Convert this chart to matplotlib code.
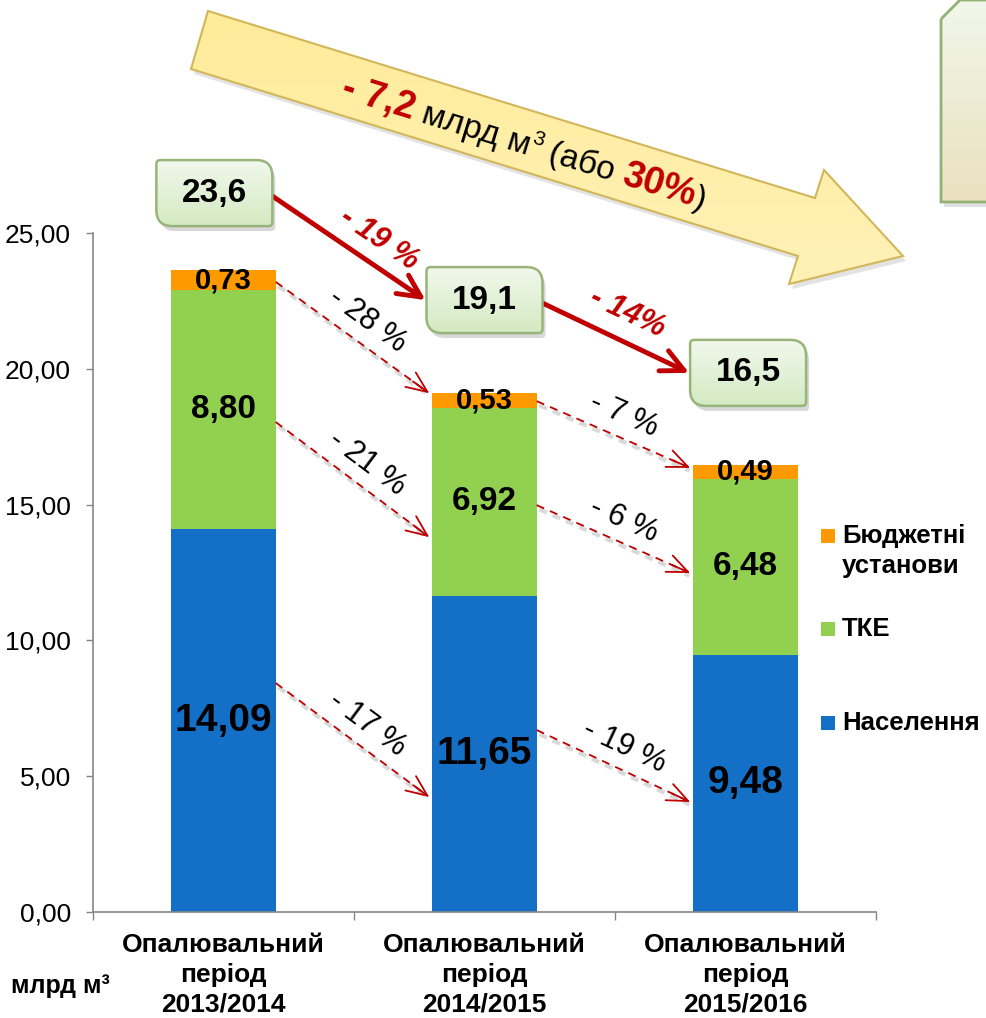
import numpy as np
import matplotlib
matplotlib.use('Agg')
import matplotlib.pyplot as plt
from matplotlib import patches, patheffects
from matplotlib.path import Path
from matplotlib.colors import to_rgb

plt.rcParams['font.family'] = ['Liberation Sans', 'DejaVu Sans']

periods = ['Опалювальний\nперіод\n2013/2014',
           'Опалювальний\nперіод\n2014/2015',
           'Опалювальний\nперіод\n2015/2016']
series_names = ['Населення', 'ТКЕ', 'Бюджетні\nустанови']
naselennia = [14.09, 11.65, 9.48]
tke = [8.80, 6.92, 6.48]
budget = [0.73, 0.53, 0.49]
totals = ['23,6', '19,1', '16,5']
total_changes = ['- 19 %', '- 14%']
# change between neighbouring periods, per series (Населення, ТКЕ, Бюджетні)
segment_changes = [['- 17 %', '- 21 %', '- 28 %'],
                   ['- 19 %', '- 6 %', '- 7 %']]
overall_change = ['- 7,2', ' млрд м', '3', ' (або ', '30%', ')']
yticks = [0, 5, 10, 15, 20, 25]
unit = 'млрд м³'

colors = ['#1370C6', '#92D050', '#FF9900']
red = '#C00000'
W, H = 987, 1018

fig = plt.figure(figsize=(W / 100, H / 100), dpi=100)
ax = fig.add_axes([93 / W, 106 / H, 783 / W, 679 / H])

x = np.arange(len(periods))
bottom = np.zeros(len(periods))
label_sizes = [28, 24, 21]
for vals, c, fs in zip([naselennia, tke, budget], colors, label_sizes):
    ax.bar(x, vals, 0.40, bottom=bottom, color=c, zorder=2)
    for xi, b, v in zip(x, bottom, vals):
        ax.text(xi, b + v / 2, f'{v:.2f}'.replace('.', ','), ha='center', va='center',
                fontsize=fs, fontweight='bold', zorder=3)
    bottom = bottom + np.array(vals)

ax.set_xlim(-0.5, 2.5)
ax.set_ylim(0, 25)
ax.set_yticks(yticks)
ax.set_yticklabels([f'{v:.2f}'.replace('.', ',') for v in yticks])
ax.set_xticks(x)
ax.set_xticklabels(periods, fontsize=19, fontweight='bold', linespacing=1.3)
ax.set_xticks([-0.5, 0.5, 1.5, 2.5], minor=True)
ax.tick_params(axis='x', which='major', length=0, pad=15)
ax.tick_params(axis='x', which='minor', length=6, color='#868686', width=1)
ax.tick_params(axis='y', length=5, color='#868686', width=1, labelsize=19, pad=11)
for s in ['top', 'right']:
    ax.spines[s].set_visible(False)
for s in ['left', 'bottom']:
    ax.spines[s].set_color('#868686')
    ax.spines[s].set_linewidth(1.2)

fig.text(60 / W, 1 - 986 / H, unit, ha='center', va='center', fontsize=18, fontweight='bold')

# overlay in pixel coordinates (y down) for the decorations
ov = fig.add_axes([0, 0, 1, 1], zorder=5)
ov.set_xlim(0, W)
ov.set_ylim(H, 0)
ov.axis('off')
ov.patch.set_visible(False)


def to_px(xv, yv):
    return ov.transData.inverted().transform(ax.transData.transform((xv, yv)))


def grad_fill(patch, top, bot, x0, x1, y0, y1, z):
    g = np.linspace(0, 1, 64)[:, None, None]
    img = (1 - g) * np.array(to_rgb(top)) + g * np.array(to_rgb(bot))
    im = ov.imshow(img, extent=(x0, x1, y1, y0), origin='upper', aspect='auto',
                   zorder=z, interpolation='bilinear')
    im.set_clip_path(patch)


def diag_box(x0, y0, w, h, rb=16, rs=4):
    x1, y1 = x0 + w, y0 + h
    verts = [(x0 + rs, y0), (x1 - rb, y0), (x1, y0), (x1, y0 + rb),
             (x1, y1 - rs), (x1, y1), (x1 - rs, y1),
             (x0 + rb, y1), (x0, y1), (x0, y1 - rb),
             (x0, y0 + rs), (x0, y0), (x0 + rs, y0), (x0 + rs, y0)]
    codes = [Path.MOVETO, Path.LINETO, Path.CURVE3, Path.CURVE3,
             Path.LINETO, Path.CURVE3, Path.CURVE3,
             Path.LINETO, Path.CURVE3, Path.CURVE3,
             Path.LINETO, Path.CURVE3, Path.CURVE3, Path.CLOSEPOLY]
    return Path(verts, codes)


# big yellow arrow
arrow_pts = [(208, 11), (815, 198), (824, 170), (903, 256), (789, 284), (798, 256), (191, 69)]
shadow = patches.Polygon([(px + 3, py + 5) for px, py in arrow_pts], closed=True,
                         facecolor='#808080', alpha=0.22, edgecolor='none', zorder=1)
ov.add_patch(shadow)
yarrow = patches.Polygon(arrow_pts, closed=True, facecolor='none',
                         edgecolor='#D2B65A', lw=1.5, zorder=3)
ov.add_patch(yarrow)
grad_fill(yarrow, '#FFEB98', '#FFF2B8', 180, 910, 0, 290, 2)

renderer = fig.canvas.get_renderer()
ang = np.degrees(np.arctan2(198 - 11, 815 - 208))
d = np.array([np.cos(np.radians(ang)), np.sin(np.radians(ang))])
nrm = np.array([np.sin(np.radians(ang)), -np.cos(np.radians(ang))])
styles = [dict(fontsize=27, fontweight='bold', color=red),
          dict(fontsize=24, color='black'),
          dict(fontsize=15, color='black'),
          dict(fontsize=24, color='black'),
          dict(fontsize=27, fontweight='bold', color=red),
          dict(fontsize=24, color='black')]
raises = [0, 0, 13, 0, 0, 0]
widths = []
for s, st in zip(overall_change, styles):
    t = ov.text(0, 0, s, **st)
    widths.append(t.get_window_extent(renderer).width)
    t.remove()
center = np.array([524, 144])
pos = center - d * sum(widths) / 2 - nrm * 10
for s, st, w, r in zip(overall_change, styles, widths, raises):
    p = pos + nrm * r
    ov.text(p[0], p[1], s, rotation=-ang, rotation_mode='anchor', ha='left',
            va='baseline', zorder=4, **st)
    pos = pos + d * w

# top-right box (cut by the edge)
tr_pts = [(941, 19), (960, 0), (1000, 0), (1000, 202), (941, 202)]
ov.add_patch(patches.Polygon([(px + 3, py + 5) for px, py in tr_pts], closed=True,
                             facecolor='#808080', alpha=0.25, edgecolor='none', zorder=1))
trbox = patches.Polygon(tr_pts, closed=True, facecolor='none', edgecolor='#93B076',
                        lw=2, zorder=3)
ov.add_patch(trbox)
grad_fill(trbox, '#F1F7EA', '#EAE0BE', 935, 1000, 0, 205, 2)

# total boxes
box_dy = [2.85, 3.43, 3.4]
box_dx = [-0.035, 0.0, 0.01]
bw, bh = 116, 66
box_centers = []
for i, (tot, vals) in enumerate(zip(totals, zip(naselennia, tke, budget))):
    cx, cy = to_px(x[i] + box_dx[i], sum(vals) + box_dy[i])
    box_centers.append((cx, cy))
    x0, y0 = cx - bw / 2, cy - bh / 2
    ov.add_patch(patches.PathPatch(diag_box(x0 + 3, y0 + 5, bw, bh), facecolor='#808080',
                                   alpha=0.3, edgecolor='none', zorder=6))
    bp = patches.PathPatch(diag_box(x0, y0, bw, bh), facecolor='none',
                           edgecolor='#98B47A', lw=1.8, zorder=8)
    ov.add_patch(bp)
    grad_fill(bp, '#F1F8EC', '#D3EAC2', x0, x0 + bw, y0, y0 + bh, 7)
    ov.text(cx, cy, tot, ha='center', va='center', fontsize=24, fontweight='bold', zorder=9)

# solid red arrows between totals
tc_offsets = [(20, 24), (0, 28)]
for i, lab in enumerate(total_changes):
    s = np.array([box_centers[i][0] + bw / 2, box_centers[i][1] + 3])
    e = np.array([box_centers[i + 1][0] - bw / 2 - 1, box_centers[i + 1][1]])
    ov.annotate('', xy=e, xytext=s, zorder=6,
                arrowprops=dict(arrowstyle='->,head_length=0.65,head_width=0.32', lw=3.5,
                                color=red, mutation_scale=25, shrinkA=0, shrinkB=0))
    v = e - s
    a = np.degrees(np.arctan2(v[1], v[0]))
    u = v / np.hypot(*v)
    n = np.array([u[1], -u[0]])
    p = (s + e) / 2 + u * tc_offsets[i][0] + n * tc_offsets[i][1]
    ov.text(p[0], p[1], lab, rotation=-a, rotation_mode='anchor', ha='center', va='center',
            fontsize=22, fontweight='bold', fontstyle='italic', color=red, zorder=6)

# dashed arrows between segments
arrow_y = [[(8.43, 4.23), (18.04, 13.8), (23.2, 19.1)],
           [(6.70, 4.05), (14.98, 12.48), (18.81, 16.35)]]
shadow_fx = [patheffects.SimpleLineShadow(offset=(2, -3), shadow_color='k', alpha=0.15,
                                          linewidth=3), patheffects.Normal()]
for i in range(2):
    for k in range(3):
        y0, y1 = arrow_y[i][k]
        s = to_px(x[i] + 0.2, y0)
        e = to_px(x[i + 1] - 0.2, y1) - np.array([3, 0])
        v = e - s
        u = v / np.hypot(*v)
        ov.plot([s[0], e[0] - u[0] * 4], [s[1], e[1] - u[1] * 4], color=red, lw=1.3,
                linestyle=(0, (4.5, 3.5)), zorder=4, path_effects=shadow_fx)
        ov.annotate('', xy=e, xytext=e - u * 20, zorder=4,
                    arrowprops=dict(arrowstyle='->,head_length=0.75,head_width=0.32', lw=1.3,
                                    color=red, mutation_scale=20, shrinkA=0, shrinkB=0))
        a = np.degrees(np.arctan2(v[1], v[0]))
        n = np.array([u[1], -u[0]])
        p = (s + e) / 2 + n * 22 + u * 2
        ov.text(p[0], p[1], segment_changes[i][k], rotation=-a, rotation_mode='anchor',
                ha='center', va='center', fontsize=22, zorder=4)

# legend
leg_y = [723, 629, 536]
for name, c, ly in zip(series_names, colors, leg_y):
    ov.add_patch(patches.Rectangle((821, ly - 7), 14, 14, facecolor=c, edgecolor='none', zorder=4))
    for j, line in enumerate(name.split('\n')):
        ov.text(842, ly + 30 * j, line, ha='left', va='center', fontsize=18.5,
                fontweight='bold', zorder=4)

ov.set_xlim(0, W)
ov.set_ylim(H, 0)

fig.savefig('out.png', dpi=100)
